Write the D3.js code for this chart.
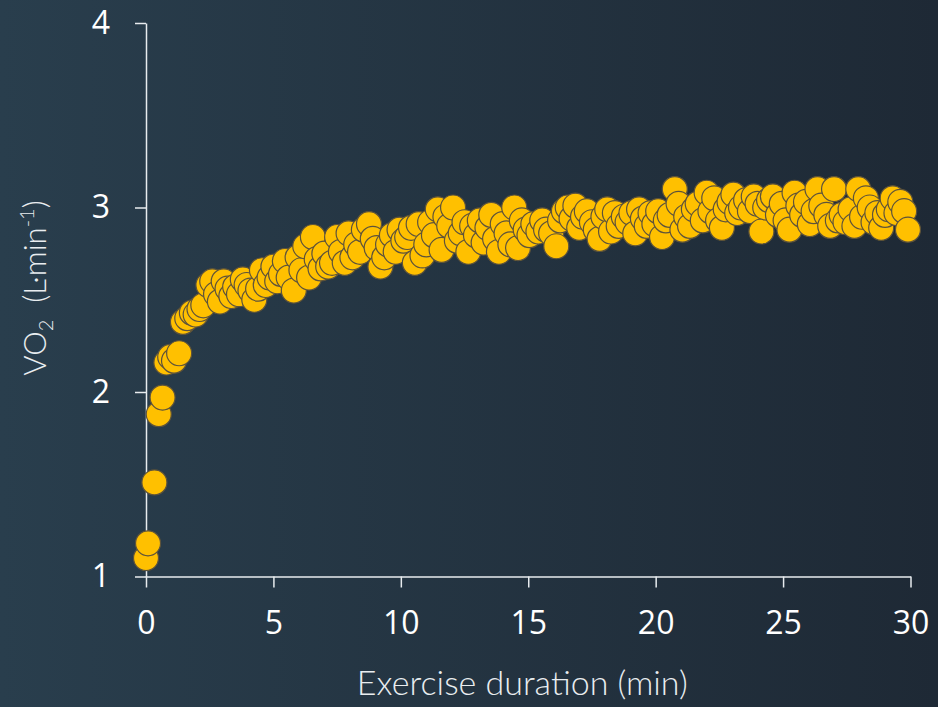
<!DOCTYPE html>
<html>
<head>
<meta charset="utf-8">
<script src="https://cdn.jsdelivr.net/npm/d3@7"></script>
<style>
  html, body { margin: 0; padding: 0; background: #23333f; }
  svg { display: block; }
</style>
</head>
<body>
<svg id="chart" width="938" height="707"></svg>
<script>
// Breath-averaged oxygen uptake during a 30-min constant-load exercise bout
const timeMin = [
  0.00, 0.08, 0.33, 0.50, 0.65, 0.80, 0.95, 1.10, 1.30, 1.45,
  1.62, 1.80, 1.95, 2.10, 2.25, 2.45, 2.60, 2.75, 2.90, 3.05,
  3.20, 3.35, 3.50, 3.65, 3.80, 3.95, 4.10, 4.25, 4.40, 4.55,
  4.70, 4.85, 5.00, 5.15, 5.30, 5.45, 5.60, 5.80, 5.95, 6.10,
  6.25, 6.40, 6.55, 6.70, 6.85, 7.00, 7.15, 7.30, 7.50, 7.65,
  7.80, 7.95, 8.10, 8.25, 8.40, 8.55, 8.75, 8.90, 9.05, 9.20,
  9.35, 9.50, 9.65, 9.80, 9.95, 10.10, 10.25, 10.40, 10.55, 10.70,
  10.85, 11.00, 11.15, 11.30, 11.45, 11.60, 11.75, 11.90, 12.05, 12.20,
  12.35, 12.50, 12.65, 12.80, 12.95, 13.10, 13.25, 13.40, 13.55, 13.70,
  13.85, 14.00, 14.15, 14.30, 14.45, 14.60, 14.75, 14.90, 15.05, 15.20,
  15.40, 15.55, 15.70, 15.90, 16.10, 16.25, 16.40, 16.55, 16.70, 16.85,
  17.00, 17.15, 17.30, 17.50, 17.65, 17.80, 17.95, 18.10, 18.25, 18.40,
  18.55, 18.75, 18.90, 19.05, 19.20, 19.35, 19.50, 19.65, 19.80, 19.95,
  20.10, 20.25, 20.40, 20.55, 20.75, 20.90, 21.05, 21.20, 21.35, 21.50,
  21.65, 21.85, 22.00, 22.15, 22.30, 22.45, 22.60, 22.75, 22.90, 23.05,
  23.20, 23.35, 23.55, 23.70, 23.85, 24.00, 24.15, 24.30, 24.45, 24.60,
  24.80, 24.95, 25.10, 25.25, 25.45, 25.60, 25.75, 25.90, 26.05, 26.20,
  26.35, 26.50, 26.70, 26.85, 27.00, 27.15, 27.30, 27.45, 27.65, 27.80,
  27.95, 28.10, 28.25, 28.40, 28.55, 28.70, 28.85, 29.00, 29.15, 29.30,
  29.45, 29.60, 29.75, 29.90
];

const vo2 = [
  1.10, 1.18, 1.51, 1.88, 1.97, 2.16, 2.19, 2.17, 2.21, 2.38,
  2.40, 2.43, 2.42, 2.45, 2.47, 2.58, 2.60, 2.53, 2.49, 2.60,
  2.56, 2.52, 2.57, 2.53, 2.61, 2.58, 2.55, 2.50, 2.56, 2.66,
  2.58, 2.62, 2.68, 2.60, 2.64, 2.71, 2.62, 2.55, 2.73, 2.66,
  2.79, 2.62, 2.84, 2.72, 2.67, 2.75, 2.68, 2.70, 2.84, 2.76,
  2.70, 2.86, 2.73, 2.80, 2.76, 2.88, 2.91, 2.83, 2.78, 2.68,
  2.73, 2.80, 2.85, 2.76, 2.88, 2.82, 2.84, 2.89, 2.70, 2.91,
  2.74, 2.80, 2.92, 2.85, 2.99, 2.77, 2.95, 2.90, 3.00, 2.82,
  2.86, 2.92, 2.76, 2.90, 2.85, 2.93, 2.81, 2.89, 2.96, 2.83,
  2.76, 2.91, 2.86, 2.80, 3.00, 2.78, 2.93, 2.88, 2.85, 2.91,
  2.87, 2.93, 2.88, 2.86, 2.79, 2.93, 2.98, 3.00, 2.94, 3.01,
  2.89, 2.95, 2.98, 2.92, 2.88, 2.83, 2.95, 2.99, 2.87, 2.97,
  2.90, 2.95, 2.92, 2.97, 2.86, 2.99, 2.94, 2.90, 2.97, 2.91,
  2.98, 2.84, 2.93, 2.96, 3.10, 3.02, 2.88, 2.95, 2.90, 2.99,
  3.02, 2.93, 3.08, 2.98, 3.05, 2.93, 2.89, 2.99, 3.03, 3.07,
  2.97, 3.00, 3.04, 2.98, 3.06, 3.02, 2.87, 3.00, 3.04, 3.06,
  2.96, 3.02, 2.93, 2.88, 3.08, 3.01, 2.96, 3.03, 2.91, 2.98,
  3.10, 3.01, 2.96, 2.90, 3.10, 2.93, 2.96, 2.92, 2.99, 2.90,
  3.10, 2.95, 3.05, 3.00, 2.92, 2.97, 2.89, 2.96, 2.99, 3.05,
  2.97, 3.03, 2.98, 2.88
];

const xTicks = [0, 5, 10, 15, 20, 25, 30];
const yTicks = [1, 2, 3, 4];

const svg = d3.select("#chart");
const W = 938, H = 707;

// Background: dark slate, slightly darker to the right
const defs = svg.append("defs");
const grad = defs.append("linearGradient")
  .attr("id", "bg").attr("x1", "0%").attr("x2", "100%").attr("y1", "0%").attr("y2", "0%");
grad.append("stop").attr("offset", "0%").attr("stop-color", "#293e4d");
grad.append("stop").attr("offset", "100%").attr("stop-color", "#1e2935");
svg.append("rect").attr("width", W).attr("height", H).attr("fill", "url(#bg)");

const x = d3.scaleLinear().domain([0, 30]).range([146, 910.5]);
const y = d3.scaleLinear().domain([1, 4]).range([576.5, 23]);

const tickFont = "'Open Sans', 'Noto Sans', sans-serif";

const xAxis = svg.append("g")
  .attr("transform", `translate(0,${y(1)})`)
  .call(d3.axisBottom(x).tickValues(xTicks).tickFormat(d3.format("d"))
    .tickSize(11).tickSizeOuter(0).tickPadding(24));

const yAxis = svg.append("g")
  .attr("transform", `translate(${x(0)},0)`)
  .call(d3.axisLeft(y).tickValues(yTicks).tickFormat(d3.format("d"))
    .tickSize(11).tickSizeOuter(0).tickPadding(25));

[xAxis, yAxis].forEach(g => {
  g.select(".domain").attr("stroke", "#e8ecef").attr("stroke-width", 1.5);
  g.selectAll(".tick line").attr("stroke", "#e8ecef").attr("stroke-width", 1.5);
  g.selectAll(".tick text")
    .attr("fill", "#ffffff")
    .style("font-family", tickFont)
    .style("font-size", "32px");
});

// Data points, drawn in time order so later breaths sit on top
const pts = timeMin.map((t, i) => ({ t, v: vo2[i] }));
svg.append("g")
  .selectAll("circle")
  .data(pts)
  .join("circle")
  .attr("cx", d => x(d.t))
  .attr("cy", d => y(d.v))
  .attr("r", 12.5)
  .attr("fill", "#ffc000")
  .attr("stroke", "#5e533a")
  .attr("stroke-width", 1.2);

// Axis titles
const titleFont = "'Lato', 'Open Sans', sans-serif";
svg.append("text")
  .attr("x", (x(0) + x(30)) / 2 - 6)
  .attr("y", 695)
  .attr("text-anchor", "middle")
  .attr("fill", "#e9edf0")
  .style("font-family", titleFont)
  .style("font-weight", 300)
  .style("font-size", "34px")
  .text("Exercise duration (min)");

const yTitle = svg.append("text")
  .attr("transform", "translate(46,288) rotate(-90)")
  .attr("text-anchor", "middle")
  .attr("fill", "#e9edf0")
  .style("font-family", titleFont)
  .style("font-weight", 300)
  .style("font-size", "31px");
yTitle.append("tspan").text("VO");
yTitle.append("tspan").attr("dy", 7).style("font-size", "20px").text("2");
yTitle.append("tspan").attr("dy", -7).text("\u00a0 (L\u00b7min");
yTitle.append("tspan").attr("dy", -12).style("font-size", "20px").text("-1");
yTitle.append("tspan").attr("dy", 12).text(")");
</script>
</body>
</html>
